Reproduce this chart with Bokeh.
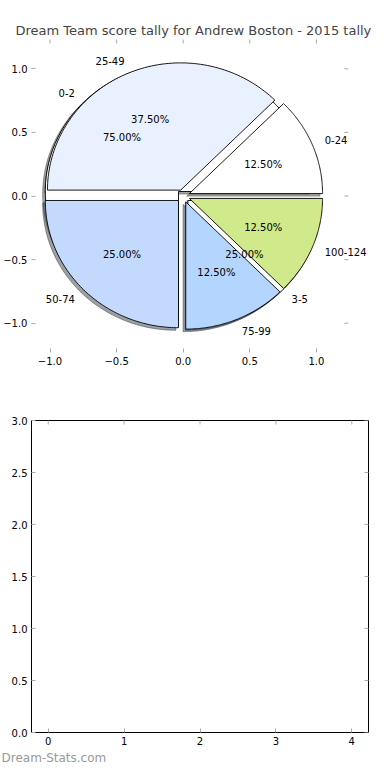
import numpy as np
from bokeh.plotting import figure
from bokeh.models import (ColumnDataSource, LabelSet, Range1d,
                          FixedTicker, CustomJSTickFormatter, Title)
from bokeh.core.properties import value
from bokeh.layouts import column
from bokeh.embed import file_html
from bokeh.resources import INLINE

# ---------------- data ----------------
title_text = "Dream Team score tally for Andrew Boston - 2015 tally"
outer_labels = ["0-24", "25-49", "50-74", "75-99", "100-124"]
outer_values = [1, 3, 2, 1, 1]
outer_colors = ["#ffffff", "#eaf1fe", "#c4d9fe", "#b3d5fe", "#cfe98b"]
inner_labels = ["0-2", "3-5"]
inner_values = [3, 1]
inner_colors = ["#ffffff", "#ffffff"]
pie_ticks = [-1.0, -0.5, 0.0, 0.5, 1.0]
bottom_xticks = [0, 1, 2, 3, 4]
bottom_yticks = [0.0, 0.5, 1.0, 1.5, 2.0, 2.5, 3.0]
footer_text = "Dream-Stats.com"

EXPLODE = 0.05
SHADOW = -0.02
PIE_EDGE = 1.24          # where the (hidden) pie axes box ends on the right
FONT = "DejaVu Sans"
TICK_COLOR = "#aaaaaa"


def shade(hexcol):
    h = hexcol.lstrip("#")
    r, g, b = (int(h[i:i + 2], 16) for i in (0, 2, 4))
    return "#%02x%02x%02x" % (int(r * 0.3), int(g * 0.3), int(b * 0.3))


def pie_geometry(values, labels, colors):
    total = float(sum(values))
    fr = np.array(values, dtype=float) / total
    ends = np.cumsum(fr) * 2 * np.pi
    starts = np.concatenate([[0.0], ends[:-1]])
    xs, ys, sxs, sys_ = [], [], [], []
    lab = {"x": [], "y": [], "text": [], "align": []}
    pct = {"x": [], "y": [], "text": []}
    for s, e, f, name in zip(starts, ends, fr, labels):
        m = 0.5 * (s + e)
        ox, oy = EXPLODE * np.cos(m), EXPLODE * np.sin(m)
        t = np.linspace(s, e, 90)
        px = np.concatenate([[ox], ox + np.cos(t), [ox]])
        py = np.concatenate([[oy], oy + np.sin(t), [oy]])
        xs.append(px)
        ys.append(py)
        sxs.append(px + SHADOW)
        sys_.append(py + SHADOW)
        lx, ly = ox + 1.1 * np.cos(m), oy + 1.1 * np.sin(m)
        lab["x"].append(lx)
        lab["y"].append(ly)
        lab["text"].append(name)
        lab["align"].append("left" if lx > 0 else "right")
        pct["x"].append(ox + 0.6 * np.cos(m))
        pct["y"].append(oy + 0.6 * np.sin(m))
        pct["text"].append("%.2f%%" % (f * 100))
    wedge_src = ColumnDataSource(dict(xs=xs, ys=ys, color=list(colors)))
    shadow_src = ColumnDataSource(dict(xs=sxs, ys=sys_,
                                       color=[shade(c) for c in colors]))
    return wedge_src, shadow_src, lab, pct


def style_axis(ax, ticks, fmt_code):
    ax.ticker = FixedTicker(ticks=ticks)
    ax.formatter = CustomJSTickFormatter(code=fmt_code)
    ax.major_tick_in = 4
    ax.major_tick_out = 0
    ax.minor_tick_in = 0
    ax.minor_tick_out = 0
    ax.major_tick_line_color = TICK_COLOR
    ax.major_tick_line_width = 1
    ax.axis_line_color = None
    ax.major_label_text_font = FONT
    ax.major_label_text_color = "#000000"
    ax.major_label_text_font_size = "10px"
    ax.major_label_standoff = 4


FMT1 = "return tick.toFixed(1).replace('-', '\\u2212');"
FMT0 = "return tick.toFixed(0);"

# ---------------- top: pie ----------------
xr_top = Range1d(-1.139, 1.391)
yr_top = Range1d(-1.23, 1.23)
top = figure(width=374, height=392, x_range=xr_top, y_range=yr_top,
             output_backend="svg", toolbar_location=None,
             min_border_left=0, min_border_right=0,
             min_border_top=39, min_border_bottom=40)
top.title.text = title_text
top.title.text_font = FONT
top.title.text_font_size = "13px"
top.title.text_font_style = "normal"
top.title.align = "left"
top.title.offset = -16
top.title.standoff = 4
top.outline_line_color = None
top.grid.visible = False
style_axis(top.below[0], pie_ticks, FMT1)
style_axis(top.left[0], pie_ticks, FMT1)
# mirrored tick marks on the top and right edges of the pie axes box
top.scatter(x=pie_ticks, y=[yr_top.end] * len(pie_ticks), marker="dash", size=8,
            angle=np.pi / 2, line_color=TICK_COLOR, line_width=1)
top.ray(x=[PIE_EDGE] * len(pie_ticks), y=pie_ticks, length=4, length_units="screen",
        angle=np.pi, line_color=TICK_COLOR, line_width=1)

in_src, in_sh, in_lab, in_pct = pie_geometry(inner_values, inner_labels, inner_colors)
out_src, out_sh, out_lab, out_pct = pie_geometry(outer_values, outer_labels, outer_colors)

for sh in (in_sh, out_sh):
    top.patches("xs", "ys", source=sh, fill_color="color", fill_alpha=0.5,
                line_color="color", line_alpha=0.5, line_width=1)
for src in (in_src, out_src):
    top.patches("xs", "ys", source=src, fill_color="color",
                line_color="#000000", line_width=0.9)

for lab, pct in ((in_lab, in_pct), (out_lab, out_pct)):
    for al in ("left", "right"):
        idx = [i for i, a in enumerate(lab["align"]) if a == al]
        if not idx:
            continue
        s = ColumnDataSource(dict(x=[lab["x"][i] for i in idx],
                                  y=[lab["y"][i] for i in idx],
                                  text=[lab["text"][i] for i in idx]))
        top.add_layout(LabelSet(x="x", y="y", text="text", source=s,
                                text_align=al, text_baseline="middle",
                                text_font=value(FONT), text_font_size="10px",
                                text_color="#000000"))
    s = ColumnDataSource(dict(pct))
    top.add_layout(LabelSet(x="x", y="y", text="text", source=s,
                            text_align="center", text_baseline="middle",
                            text_font=value(FONT), text_font_size="10px",
                            text_color="#000000"))

# ---------------- bottom: empty axes ----------------
xr_bot = Range1d(-0.22, 4.22)
yr_bot = Range1d(0, 3)
bot = figure(width=374, height=380, x_range=xr_bot, y_range=yr_bot,
             output_backend="svg", toolbar_location=None,
             min_border_left=0, min_border_right=6,
             min_border_top=28, min_border_bottom=40)
bot.outline_line_color = "#000000"
bot.outline_line_width = 1
bot.grid.visible = False
style_axis(bot.below[0], bottom_xticks, FMT0)
style_axis(bot.left[0], bottom_yticks, FMT1)
bot.scatter(x=bottom_xticks, y=[yr_bot.end] * len(bottom_xticks), marker="dash",
            size=8, angle=np.pi / 2, line_color=TICK_COLOR, line_width=1)
bot.scatter(x=[xr_bot.end] * len(bottom_yticks), y=bottom_yticks, marker="dash",
            size=8, line_color=TICK_COLOR, line_width=1)
bot.add_layout(Title(text=footer_text, align="left", text_font=FONT,
                     text_font_size="12px", text_font_style="normal",
                     text_color="#9a9a9a", offset=-30, standoff=2), "below")

layout = column(top, bot, spacing=0)
open("out.html", "w").write(file_html(layout, INLINE))
